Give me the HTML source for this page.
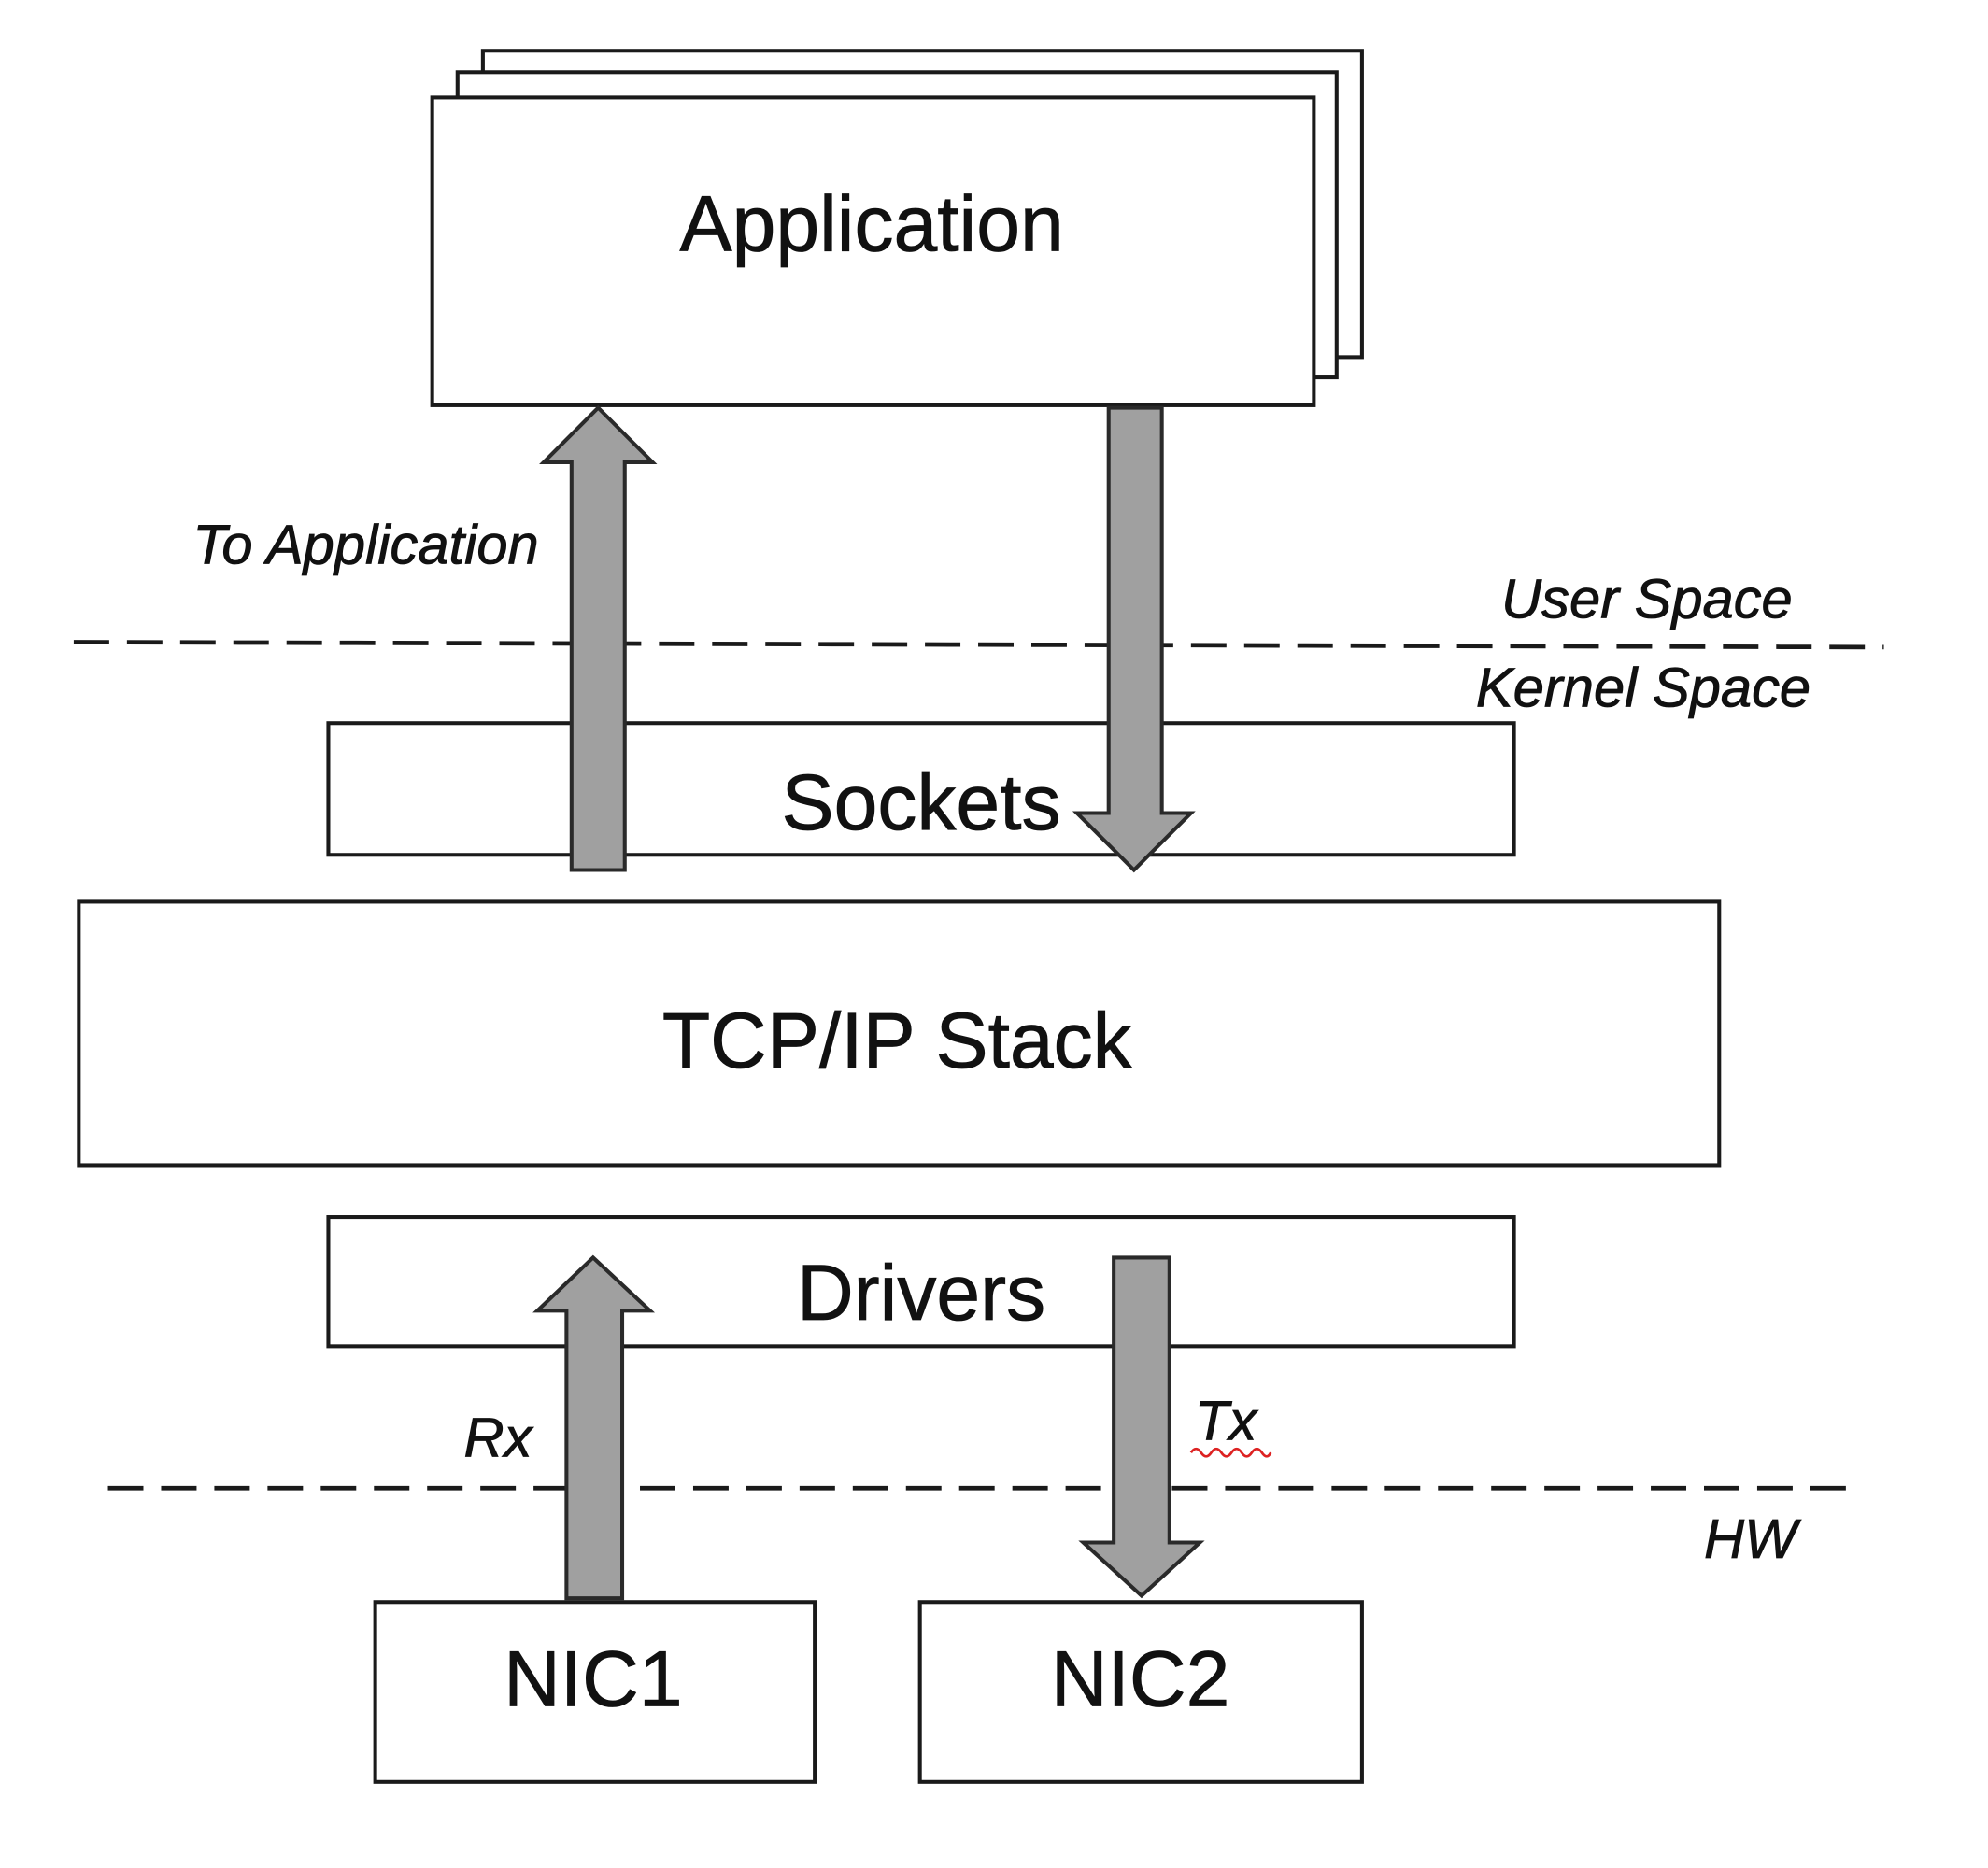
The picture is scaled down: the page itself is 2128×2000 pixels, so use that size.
<!DOCTYPE html>
<html><head><meta charset="utf-8"><style>
html,body{margin:0;padding:0;background:#fff;}
svg{display:block;}
text{font-family:"Liberation Sans",sans-serif;fill:#111;stroke:#111;stroke-width:0.6;}
.i{font-style:italic;font-size:44px;}
.b{font-size:62px;text-anchor:middle;}
</style></head><body>
<svg width="2128" height="2000" viewBox="0 0 1569 1475" xmlns="http://www.w3.org/2000/svg">
<rect width="1569" height="1475" fill="#fff"/>
<g fill="#fff" stroke="#1a1a1a" stroke-width="3">
<rect x="381" y="40" width="694" height="242"/>
<rect x="361" y="57" width="694" height="241"/>
<rect x="341" y="77" width="696" height="243"/>
<rect x="259" y="571" width="936" height="104"/>
<rect x="62" y="712" width="1295" height="208"/>
<rect x="259" y="961" width="936" height="102"/>
<rect x="296" y="1265" width="347" height="142"/>
<rect x="726" y="1265" width="349" height="142"/>
</g>
<g stroke="#1a1a1a" stroke-width="3.5" stroke-dasharray="28 14" fill="none">
<line x1="58" y1="507" x2="1487" y2="511"/>
<line x1="85" y1="1175" x2="1462" y2="1175"/>
</g>
<text class="b" x="688" y="198" font-size="64">Application</text>
<text class="b" x="727" y="655">Sockets</text>
<text class="b" x="708" y="843">TCP/IP Stack</text>
<text class="b" x="727" y="1042">Drivers</text>
<text class="b" x="468" y="1347">NIC1</text>
<text class="b" x="900" y="1347">NIC2</text>
<text class="i" x="152" y="445" font-size="45">To Application</text>
<text class="i" x="1185" y="488">User Space</text>
<text class="i" x="1165" y="558">Kernel Space</text>
<text class="i" x="366" y="1150" font-size="54">Rx</text>
<text class="i" x="943" y="1137" font-size="54">Tx</text>
<path d="M940 1147 q4 -6 8 0 t8 0 t8 0 t8 0 t8 0 t8 0 t8 0 t7 0" stroke="#d22" stroke-width="2" fill="none"/>
<text class="i" x="1345" y="1230">HW</text>
<g fill="#a0a0a0" stroke="#2a2a2a" stroke-width="3" stroke-linejoin="miter">
<path d="M451 687 V365 H429 L472 322 L515 365 H493 V687 Z"/>
<path d="M875 322 V642 H850 L895 687 L940 642 H917 V322 Z"/>
<path d="M447 1262 V1035 H424 L468 993 L513 1035 H491 V1262 Z"/>
<path d="M879 993 V1218 H855 L901 1260 L947 1218 H923 V993 Z"/>
</g>
</svg>
</body></html>
